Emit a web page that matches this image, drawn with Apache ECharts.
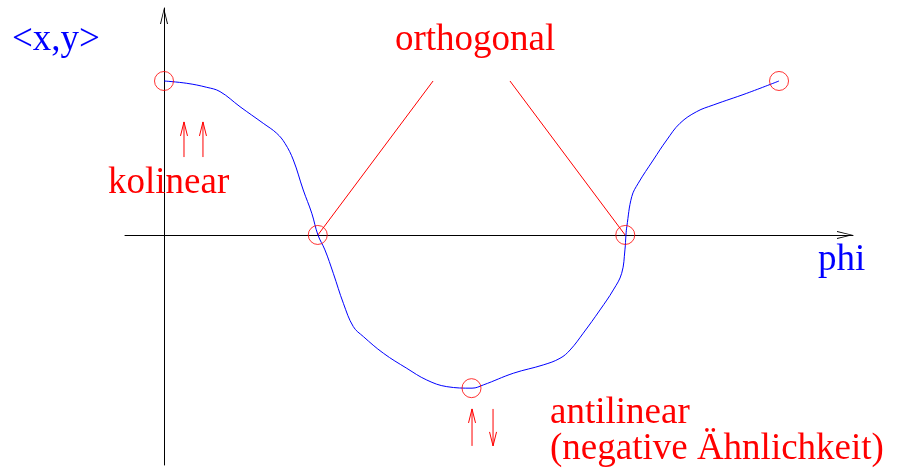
<!DOCTYPE html>
<html>
<head>
<meta charset="utf-8">
<script src="https://cdn.jsdelivr.net/npm/echarts@6/dist/echarts.min.js"></script>
<style>
html,body{margin:0;padding:0;background:#fff;}
#chart{width:898px;height:473px;}
</style>
</head>
<body>
<div id="chart"></div>
<script>
// ---- data (phi in degrees, <x,y> normalised) ----
const phi = [0, 13.3, 25.0, 32.8, 44.5, 58.1, 66.0, 70.8, 75.7, 81.5, 86.5, 90.1, 94.2, 99.1, 105.0, 110.8, 116.7, 128.4, 142.1, 153.8, 165.5, 180.3, 186.9, 204.5, 222.0, 231.8, 237.7, 245.4, 255.2, 263.0, 267.9, 269.8, 270.4, 270.9, 273.8, 277.6, 286.4, 294.3, 302.0, 311.8, 321.5, 341.1, 360];
const xy  = [1.0, 0.985, 0.959, 0.931, 0.833, 0.725, 0.660, 0.595, 0.487, 0.292, 0.141, 0, -0.097, -0.249, -0.444, -0.595, -0.660, -0.768, -0.866, -0.942, -0.985, -0.995, -0.974, -0.898, -0.844, -0.801, -0.747, -0.638, -0.487, -0.357, -0.249, -0.097, 0, 0.054, 0.249, 0.336, 0.487, 0.617, 0.725, 0.801, 0.844, 0.920, 1.0];

const circlePhi = [0, 90, 180, 270, 360];
const circleVal = [1, 0, -0.995, 0, 1];

// connector lines from "orthogonal" label to zero crossings: [phi1, val1, phi2, val2]
const orthoLines = [[90.1, 0, 157.5, 1.0], [202.5, 1.0, 269.9, 0]];

// small arrows: [phiStart, valStart, phiEnd, valEnd]
const arrows = [
  [11.7, 0.506, 11.7, 0.734],
  [22.8, 0.506, 22.8, 0.734],
  [180.3, -1.370, 180.3, -1.130],
  [192.6, -1.130, 192.6, -1.370]
];

const axisRange = {xMin: -22.83, xMax: 403.3, yMin: -1.494, yMax: 1.474};

const labels = [
  {text: '<x,y>', x: 12, base: 52, color: '#0000ff'},
  {text: 'orthogonal', x: 395, base: 52, color: '#ff0000'},
  {text: 'kolinear', x: 108, base: 195, color: '#ff0000'},
  {text: 'phi', x: 818, base: 272, color: '#0000ff'},
  {text: 'antilinear', x: 550, base: 425, color: '#ff0000'},
  {text: '(negative Ähnlichkeit)', x: 550, base: 461, color: '#ff0000'}
];

const FONT_SIZE = 37;
const FONT_FAMILY = 'Liberation Serif';
const chev = 'path://M4,0 L8,16 L7,16 L4,2.8 L1,16 L0,16 Z';

const chart = echarts.init(document.getElementById('chart'), null, {renderer: 'canvas'});

function arrowRender(params, api) {
  const p1 = api.coord([api.value(0), api.value(1)]);
  const p2 = api.coord([api.value(2), api.value(3)]);
  const dx = p2[0] - p1[0], dy = p2[1] - p1[1];
  const len = Math.sqrt(dx * dx + dy * dy);
  const ux = dx / len, uy = dy / len;
  const hl = 14, hw = 3.5;
  const a1 = [p2[0] - ux * hl - uy * hw, p2[1] - uy * hl + ux * hw];
  const a2 = [p2[0] - ux * hl + uy * hw, p2[1] - uy * hl - ux * hw];
  const st = {stroke: '#ff0000', lineWidth: 1, fill: null};
  return {
    type: 'group',
    children: [
      {type: 'line', shape: {x1: p1[0], y1: p1[1], x2: p2[0], y2: p2[1]}, style: st},
      {type: 'polyline', shape: {points: [a1, p2, a2]}, style: st}
    ]
  };
}

function segRender(params, api) {
  const p1 = api.coord([api.value(0), api.value(1)]);
  const p2 = api.coord([api.value(2), api.value(3)]);
  return {type: 'line', shape: {x1: p1[0], y1: p1[1], x2: p2[0], y2: p2[1]},
          style: {stroke: '#ff0000', lineWidth: 1}};
}

const option = {
  animation: false,
  backgroundColor: '#ffffff',
  title: labels.map(l => ({
    text: l.text, left: l.x, top: l.base - FONT_SIZE * 0.305 - FONT_SIZE / 2, padding: 0,
    textStyle: {color: l.color, fontFamily: FONT_FAMILY, fontSize: FONT_SIZE,
                fontWeight: 'normal', lineHeight: FONT_SIZE}
  })),
  grid: {left: 125, right: 45, top: 8, bottom: 8},
  xAxis: {
    type: 'value', min: axisRange.xMin, max: axisRange.xMax,
    axisLine: {show: true, onZero: true, lineStyle: {color: '#000', width: 1},
               symbol: ['none', chev], symbolSize: [8, 16], symbolOffset: [0, -8]},
    axisTick: {show: false}, axisLabel: {show: false}, splitLine: {show: false}
  },
  yAxis: {
    type: 'value', min: axisRange.yMin, max: axisRange.yMax,
    axisLine: {show: true, onZero: true, lineStyle: {color: '#000', width: 1},
               symbol: ['none', chev], symbolSize: [8, 16], symbolOffset: [0, -8]},
    axisTick: {show: false}, axisLabel: {show: false}, splitLine: {show: false}
  },
  series: [
    {
      type: 'line', smooth: 0.4, showSymbol: false, symbol: 'none',
      data: phi.map((p, i) => [p, xy[i]]),
      lineStyle: {color: '#0000ff', width: 1}, z: 3
    },
    {type: 'custom', renderItem: segRender, data: orthoLines, z: 2},
    {type: 'custom', renderItem: arrowRender, data: arrows, z: 2},
    {
      type: 'scatter', symbol: 'circle', symbolSize: 19,
      data: circlePhi.map((p, i) => [p, circleVal[i]]),
      itemStyle: {color: 'rgba(0,0,0,0)', borderColor: '#ff0000', borderWidth: 1}, z: 4
    }
  ]
};
chart.setOption(option);
</script>
</body>
</html>
